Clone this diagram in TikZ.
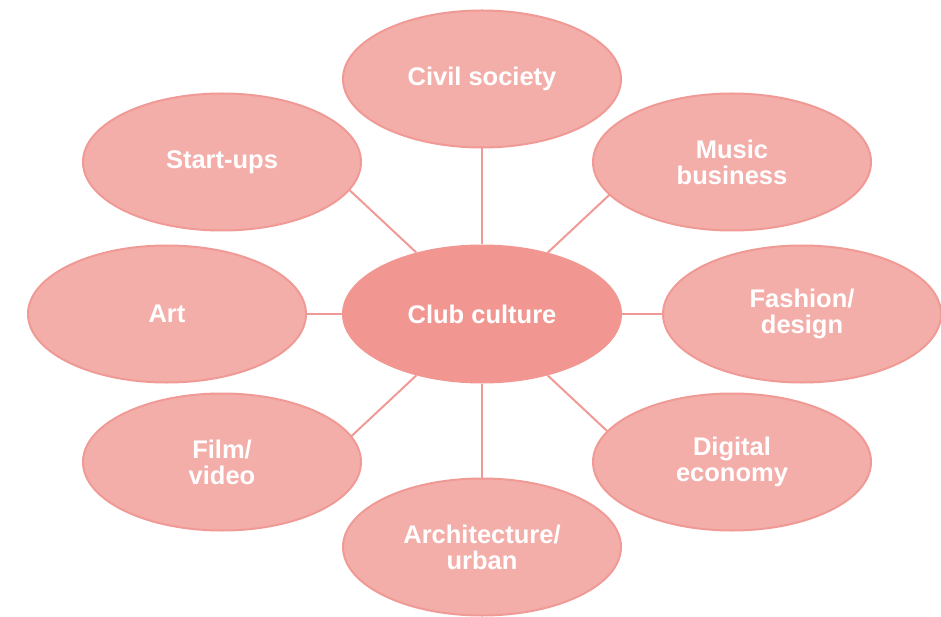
\documentclass[tikz,border=0pt]{standalone}
\usepackage{fontspec}
\setmainfont{Liberation Sans}
\usetikzlibrary{shapes.geometric,backgrounds}
\definecolor{outerfill}{HTML}{F4AEAA}
\definecolor{centerfill}{HTML}{F19691}
\definecolor{edgecol}{HTML}{F09A96}
\begin{document}
\begin{tikzpicture}[x=1pt,y=-1pt,
  bubble/.style={ellipse, draw=edgecol, line width=2pt, fill=outerfill,
    minimum width=278pt, minimum height=137pt, inner sep=0pt,
    text=white, align=center,
    font=\fontsize{25.5}{26}\selectfont\bfseries},
  hub/.style={bubble, fill=centerfill, draw=centerfill},
  link/.style={draw=edgecol, line width=2pt}]
\useasboundingbox (0,0) rectangle (941,617);
\node[hub] (club) at (482,314) {Club culture};
\node[bubble] (civil) at (482,79) {Civil society};
\node[bubble] (startups) at (222,162) {Start-ups};
\node[bubble] (music) at (732,162) {Music\\business};
\node[bubble] (art) at (167,314) {Art};
\node[bubble] (fashion) at (802,314) {Fashion/\\design};
\node[bubble] (film) at (222,462) {Film/\\video};
\node[bubble] (digital) at (732,462) {Digital\\economy};
\node[bubble] (arch) at (482,547) {Architecture/\\urban};
\begin{pgfonlayer}{background}
  \coordinate (e-su) at ([shift={(-139,-130)}]club.center);
  \coordinate (e-mu) at ([shift={(139,-130)}]club.center);
  \coordinate (e-fi) at ([shift={(-139,130)}]club.center);
  \coordinate (e-di) at ([shift={(139,130)}]club.center);
  \draw[link] (club) -- (civil);
  \draw[link] (club) -- (arch);
  \draw[link] (club) -- (art);
  \draw[link] (club) -- (fashion);
  \draw[link] (club) -- (e-su);
  \draw[link] (club) -- (e-mu);
  \draw[link] (club) -- (e-fi);
  \draw[link] (club) -- (e-di);
\end{pgfonlayer}
\end{tikzpicture}
\end{document}
